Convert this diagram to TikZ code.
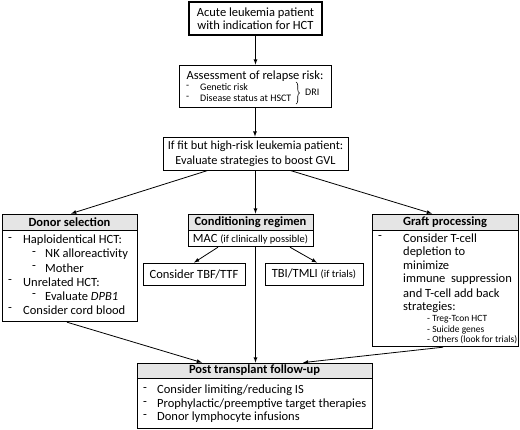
\documentclass[tikz,border=0pt]{standalone}
\usepackage{fontspec}
\setmainfont{Carlito}
\usetikzlibrary{arrows,calc,decorations.pathreplacing}

\begin{document}
\begin{tikzpicture}[x=1pt,y=-1pt,>=latex]
  \useasboundingbox (0,0) rectangle (520,430);
  \tikzstyle{BoxStyle}=[draw,line width=0.8pt,inner sep=0pt,font=\fontsize{12.5}{13.5}\selectfont]
  \tikzstyle{HeadStyle}=[BoxStyle,fill=black!10,font=\bfseries\fontsize{12.5}{14}\selectfont]
  \tikzstyle{TextStyle}=[anchor=west,inner sep=0pt,font=\fontsize{12.5}{14}\selectfont]
  \tikzstyle{SmallStyle}=[anchor=west,inner sep=0pt,font=\fontsize{10}{11}\selectfont]
  \tikzstyle{TinyStyle}=[anchor=west,inner sep=0pt,font=\fontsize{9.5}{10}\selectfont]
  \tikzstyle{EdgeStyle}=[->,line width=0.8pt]
  % top of the chart
  \node[BoxStyle,line width=1.6pt,minimum width=133pt,minimum height=33pt,align=center] (A1) at (255.5,18.5) {Acute leukemia patient\\with indication for HCT};
  \node[BoxStyle,minimum width=152pt,minimum height=42pt] (A2) at (255,86) {};
  \node[TextStyle,anchor=center] (A2t) at (255,76) {Assessment of relapse risk:};
  \foreach \y/\t [count=\i] in {87/{Genetic risk},98/{Disease status at HSCT}} {
    \node[SmallStyle] (r\i) at (186,\y) {-};
    \node[SmallStyle] (s\i) at (200,\y) {\t};
  }
  \draw[line width=0.6pt,decorate,decoration={brace,amplitude=3.5pt}] (296,82) -- (296,104);
  \node[SmallStyle] (R3) at (305,92) {DRI};
  \node[BoxStyle,minimum width=185pt,minimum height=33pt,align=center,font=\fontsize{12.3}{15}\selectfont] (A3) at (255.5,153.5) {If fit but high-risk leukemia patient:\\Evaluate strategies to boost GVL};
  % donor selection
  \node[HeadStyle,minimum width=135pt,minimum height=16pt] (B1) at (69.5,222) {Donor selection};
  \node[BoxStyle,minimum width=135pt,minimum height=91pt,anchor=north] (B2) at (B1.south) {};
  \foreach \y/\d/\x/\t [count=\i] in {240/8/23/{Haploidentical HCT:},254/32/45/{NK alloreactivity},268/32/45/{Mother},282/8/23/{Unrelated HCT:},296/32/45/{Evaluate \textit{DPB1}},310/8/23/{Consider cord blood}} {
    \node[TextStyle] (bd\i) at (\d,\y) {-};
    \node[TextStyle] (b\i) at (\x,\y) {\t};
  }
  % conditioning regimen
  \node[HeadStyle,minimum width=125pt,minimum height=16pt] (C1) at (250.5,222) {Conditioning regimen};
  \node[BoxStyle,minimum width=125pt,minimum height=16pt,anchor=north] (C2) at (C1.south) {MAC {\fontsize{10.5}{11}\selectfont(if clinically possible)}};
  \node[BoxStyle,minimum width=102pt,minimum height=22pt] (C3) at (194,274) {Consider TBF/TTF};
  \node[BoxStyle,minimum width=98pt,minimum height=22pt] (C4) at (314,274) {TBI/TMLI {\fontsize{10.5}{11}\selectfont(if trials)}};
  % graft processing
  \node[HeadStyle,minimum width=146pt,minimum height=16pt] (D1) at (445,222) {Graft processing};
  \node[BoxStyle,minimum width=146pt,minimum height=116pt,anchor=north] (D2) at (D1.south) {};
  \node[TextStyle] (dd1) at (378,238) {-};
  \foreach \y/\t [count=\i] in {238/{Consider T-cell},252/{depletion to},265/{minimize},279/{immune\ \ suppression},293/{and T-cell add back},307/{strategies:}} {
    \node[TextStyle] (d\i) at (403,\y) {\t};
  }
  \foreach \y/\t [count=\i] in {319/{Treg-Tcon HCT},330/{Suicide genes},340/{Others (look for trials)}} {
    \node[TinyStyle] (e\i) at (427,\y) {- \t};
  }
  % post transplant
  \node[HeadStyle,minimum width=235pt,minimum height=15pt] (E1) at (254.5,370.5) {Post transplant follow-up};
  \node[BoxStyle,minimum width=235pt,minimum height=50pt,anchor=north] (E2) at (E1.south) {};
  \foreach \y/\t [count=\i] in {390/{Consider limiting/reducing IS},404/{Prophylactic/preemptive target therapies},417/{Donor lymphocyte infusions}} {
    \node[TextStyle] (pd\i) at (143,\y) {-};
    \node[TextStyle] (p\i) at (157,\y) {\t};
  }
  % arrows
  \draw[EdgeStyle] (A1.south) -- (A1.south |- A2.north);
  \draw[EdgeStyle] (A2.south) -- (A2.south |- A3.north);
  \draw[EdgeStyle] ([xshift=-47.5pt]A3.south) -- ([xshift=1.5pt]B1.north);
  \draw[EdgeStyle] (A3.south) -- (A3.south |- C1.north);
  \draw[EdgeStyle] ([xshift=34.5pt]A3.south) -- ([xshift=-13pt]D1.north);
  \draw[EdgeStyle] ([xshift=-32.5pt]C2.south) -- (C3.north);
  \draw[EdgeStyle] ([xshift=39.5pt]C2.south) -- ([xshift=3pt]C4.north);
  \draw[EdgeStyle] (A3.south |- C2.south) -- (A3.south |- E1.north);
  \draw[EdgeStyle] ([xshift=-2.5pt]B2.south) -- ([xshift=-52.5pt]E1.north);
  \draw[EdgeStyle] ([xshift=-2pt]D2.south) -- ([xshift=48.5pt]E1.north);
\end{tikzpicture}
\end{document}
